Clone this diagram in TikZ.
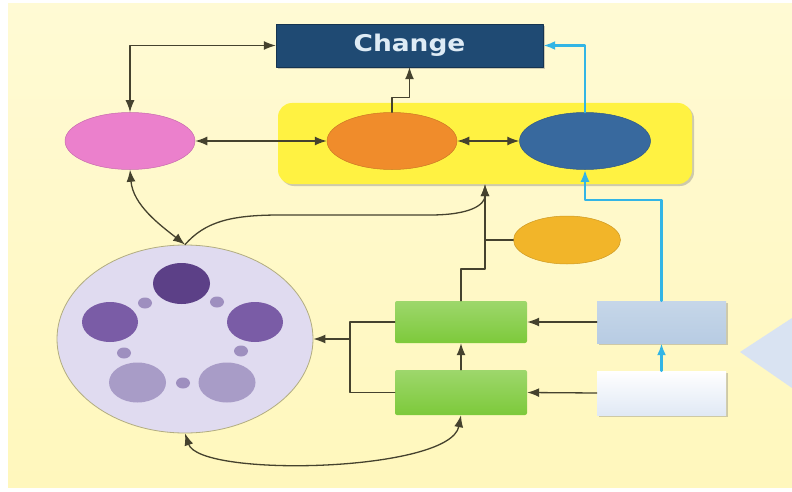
\documentclass[tikz,border=0pt]{standalone}
\usepackage{fontspec}
\usepackage{tikz}
\usetikzlibrary{shapes.geometric,arrows.meta,shadows}
\newfontfamily\labelfont[FakeStretch=1.15]{DejaVu Sans}
\definecolor{paper}{rgb}{1,0.97,0.74}
\definecolor{navy}{rgb}{0.12,0.29,0.45}
\definecolor{changetext}{rgb}{0.87,0.92,0.96}
\definecolor{hubyellow}{rgb}{1,0.95,0.26}
\definecolor{pinkish}{rgb}{0.92,0.5,0.8}
\definecolor{orng}{rgb}{0.94,0.55,0.17}
\definecolor{blu}{rgb}{0.22,0.41,0.62}
\definecolor{gold}{rgb}{0.95,0.71,0.16}
\definecolor{wheelfill}{rgb}{0.88,0.86,0.94}
\definecolor{purpdark}{rgb}{0.36,0.25,0.53}
\definecolor{purpmid}{rgb}{0.48,0.36,0.65}
\definecolor{purplite}{rgb}{0.66,0.61,0.78}
\definecolor{dotcol}{rgb}{0.62,0.56,0.75}
\definecolor{grn}{rgb}{0.49,0.79,0.23}
\definecolor{paleblue}{rgb}{0.72,0.8,0.89}
\definecolor{paleleft}{rgb}{0.85,0.89,0.95}
\definecolor{linecol}{rgb}{0.27,0.26,0.18}
\definecolor{cyanline}{rgb}{0.2,0.71,0.9}
\definecolor{rim}{rgb}{0.7,0.68,0.5}

\begin{document}
\begin{tikzpicture}[line cap=round,line join=round,x=1pt,y=-1pt,
	conn/.style={line width=1.3pt,color=linecol},
	skyconn/.style={line width=2.4pt,color=cyanline},
	onetip/.style={-{Latex[length=12pt,width=9pt]}},
	twotips/.style={{Latex[length=12pt,width=9pt]}-{Latex[length=12pt,width=9pt]}},
	boxshadow/.style={drop shadow={shadow xshift=2pt,shadow yshift=-2pt,opacity=0.35,fill=black!55}}]
	\useasboundingbox (0,0) rectangle (792,492);
	\fill [white] (0,0) rectangle (792,492);
	\shade [top color=paper!65!white, bottom color=paper] (8,4) rectangle (792,487);
	% top row
	\node [fill=hubyellow, rounded corners=14pt, minimum width=414pt, minimum height=81pt, boxshadow] (hub) at (485,143.5) {};
	\node [fill=navy, draw=navy!70!black, minimum width=267pt, minimum height=43pt, inner sep=0pt, boxshadow] (change) at (409.5,45.5)
		{\labelfont\bfseries\fontsize{23}{23}\selectfont\color{changetext}Change};
	\node [ellipse, fill=pinkish, draw=pinkish!85!black, line width=0.5pt, minimum width=130pt, minimum height=57pt, inner sep=0pt] (pink) at (130,141) {};
	\node [ellipse, fill=orng, draw=orng!85!black, line width=0.5pt, minimum width=130pt, minimum height=57pt, inner sep=0pt] (orange) at (392,141) {};
	\node [ellipse, fill=blu, draw=blu!85!black, line width=0.5pt, minimum width=131pt, minimum height=57pt, inner sep=0pt] (blue) at (585,141) {};
	\node [ellipse, fill=gold, draw=gold!85!black, line width=0.5pt, minimum width=107pt, minimum height=48pt, inner sep=0pt] (gold) at (567,240) {};

	% wheel
	\node [ellipse, fill=wheelfill, draw=rim, line width=0.8pt, minimum width=256pt, minimum height=188pt, inner sep=0pt] (wheel) at (185,339) {};
	\fill [purpdark] (181.5,283.5) ellipse [x radius=28.5pt, y radius=20.5pt];
	\fill [purpmid] (110,322) ellipse [x radius=28pt, y radius=20pt];
	\fill [purpmid] (255,322) ellipse [x radius=28pt, y radius=20pt];
	\fill [purplite] (137.5,382.5) ellipse [x radius=28.5pt, y radius=20pt];
	\fill [purplite] (227,382.5) ellipse [x radius=28.5pt, y radius=20pt];
	\foreach \dx/\dy in {145/303, 217/302, 124/353, 241/351, 183/383}
		\fill [dotcol] (\dx,\dy) ellipse [x radius=7pt, y radius=5.5pt];

	% boxes
	\node [top color=grn!75!white, bottom color=grn, rounded corners=2pt, minimum width=132pt, minimum height=42pt, inner sep=0pt] (gtop) at (461,322) {};
	\node [top color=grn!75!white, bottom color=grn, rounded corners=2pt, minimum width=132pt, minimum height=45pt, inner sep=0pt] (gbot) at (461,392.5) {};
	\node [top color=paleblue!80!white, bottom color=paleblue, minimum width=129pt, minimum height=42pt, inner sep=0pt, boxshadow] (ltop) at (661.5,322) {};
	\node [top color=white, bottom color=paleleft!80!white, minimum width=129pt, minimum height=44pt, inner sep=0pt, boxshadow] (lbot) at (661.5,393) {};
	\fill [paleleft] (740,352) -- (792,318) -- (792,388) -- cycle;

	% connectors
	\draw [conn,twotips] (pink.north) |- (change.west);
	\draw [conn,twotips] (pink.east) -- (orange.west);
	\draw [conn,twotips] (orange.east) -- (blue.west);
	\draw [conn,onetip] (orange.north) |- ([yshift=-30pt]change.south) -- (change.south);
	\draw [skyconn,onetip] (blue.north) |- (change.east);
	\draw [skyconn,onetip] (ltop.north) |- (585,200) -- (blue.south);
	\draw [skyconn,onetip] (lbot.north) -- (ltop.south);
	\draw [conn,onetip] (ltop.west) -- (gtop.east);
	\draw [conn,onetip] (lbot.west) -- (gbot.east);
	\draw [conn,onetip] (gbot.north) -- (gtop.south);
	\draw [conn,onetip] (gtop.north) |- (485,269) -- (hub.south);
	\draw [conn] (gold.west) -- (gold.west -| hub.south);
	\coordinate (split) at (350,339);
	\draw [conn] (gtop.west) -| (split) |- (gbot.west);
	\draw [conn,onetip] (split) -- (wheel.east);
	\draw [conn,twotips] (pink.south) .. controls (133,205) and (160,225) .. (wheel.north);
	\draw [conn,onetip] (wheel.north) .. controls (205,222) and (230,215) .. (280,215) -- (430,215) .. controls (470,215) and (485,205) .. (hub.south);
	\draw [conn,twotips] (wheel.south) .. controls (200,478) and (450,472) .. (gbot.south);
\end{tikzpicture}
\end{document}
